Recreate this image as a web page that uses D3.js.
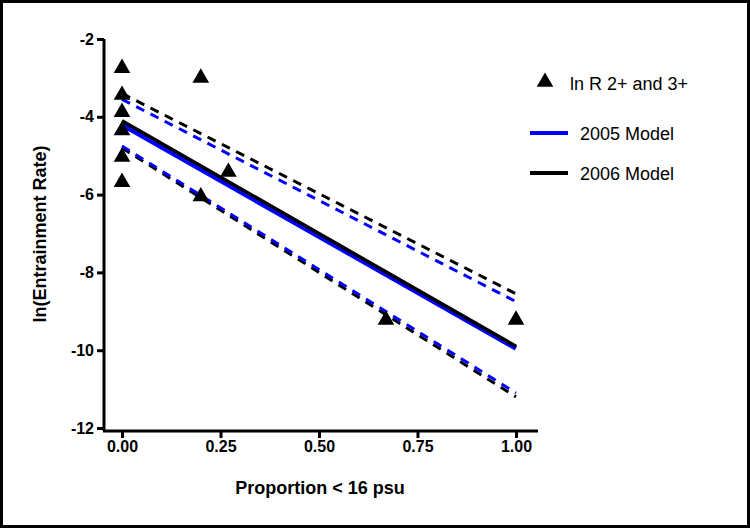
<!DOCTYPE html><html><head><meta charset="utf-8"><script src="https://cdn.jsdelivr.net/npm/d3@7"></script>
<style>body{margin:0}svg{display:block}</style></head><body><script>
const pointsX=[0,0,0,0,0,0,0.2,0.2,0.27,0.67,1.0];
const pointsY=[-2.75,-3.44,-3.88,-4.35,-5.03,-5.68,-3.0,-6.05,-5.42,-9.22,-9.22];
const lineX=[0,1];
const m2005=[-4.2,-9.95], m2006=[-4.1,-9.9];
const up2005=[-3.55,-8.75], lo2005=[-4.75,-11.1];
const up2006=[-3.4,-8.55], lo2006=[-4.8,-11.2];
const xTicks=[0,0.25,0.5,0.75,1.0], yTicks=[-2,-4,-6,-8,-10,-12];
const svg=d3.select("body").append("svg").attr("width",750).attr("height",528).style("font-family","Liberation Sans, Arial, sans-serif");
svg.append("rect").attr("x",1.5).attr("y",1.5).attr("width",747).attr("height",525).attr("fill","white").attr("stroke","black").attr("stroke-width",3);
const x=d3.scaleLinear().domain([0,1]).range([122,516]);
const y=d3.scaleLinear().domain([-12,-2]).range([428,39]);
const ax=svg.append("g").attr("transform","translate(0,431)").call(d3.axisBottom(x).tickValues(xTicks).tickFormat(d3.format(".2f")).tickSize(7).tickSizeOuter(0));
ax.select(".domain").attr("d","M103,0H538");
const ay=svg.append("g").attr("transform","translate(104,0)").call(d3.axisLeft(y).tickValues(yTicks).tickFormat(d=>String(d)).tickSize(7).tickSizeOuter(0));
[ax,ay].forEach(a=>{a.selectAll("path,line").attr("stroke","black").attr("stroke-width",3);a.selectAll("text").attr("font-size",16).attr("font-weight","bold").attr("fill","black");});
ay.select(".domain").attr("d","M0,39V431");
svg.append("text").attr("x",320).attr("y",494).attr("text-anchor","middle").attr("font-size",18).attr("font-weight","bold").text("Proportion < 16 psu");
svg.append("text").attr("transform","translate(46,234)rotate(-90)").attr("text-anchor","middle").attr("font-size",18).attr("font-weight","bold").text("ln(Entrainment Rate)");
function ln(vals,col,w,dash){svg.append("line").attr("x1",x(lineX[0])).attr("y1",y(vals[0])).attr("x2",x(lineX[1])).attr("y2",y(vals[1])).attr("stroke",col).attr("stroke-width",w).attr("stroke-dasharray",dash||null);}
ln(up2006,"black",3,"9,7");ln(lo2006,"black",3,"9,7");
ln(up2005,"#0000ff",3,"9,7");ln(lo2005,"#0000ff",3,"9,7");
ln(m2005,"#0000ff",5);ln(m2006,"black",3.5);
const tri=d3.symbol().type(d3.symbolTriangle).size(120);
svg.selectAll(".pt").data(pointsX).enter().append("path").attr("d",tri).attr("transform",(d,i)=>`translate(${x(d)},${y(pointsY[i])})`).attr("fill","black");
svg.append("path").attr("d",tri).attr("transform","translate(545,82)").attr("fill","black");
svg.append("text").attr("x",570).attr("y",90).attr("font-size",18).text("ln R 2+ and 3+");
svg.append("line").attr("x1",530).attr("x2",568).attr("y1",133).attr("y2",133).attr("stroke","#0000ff").attr("stroke-width",4);
svg.append("text").attr("x",580).attr("y",140).attr("font-size",18).text("2005 Model");
svg.append("line").attr("x1",530).attr("x2",568).attr("y1",173).attr("y2",173).attr("stroke","black").attr("stroke-width",4);
svg.append("text").attr("x",580).attr("y",180).attr("font-size",18).text("2006 Model");
</script></body></html>
